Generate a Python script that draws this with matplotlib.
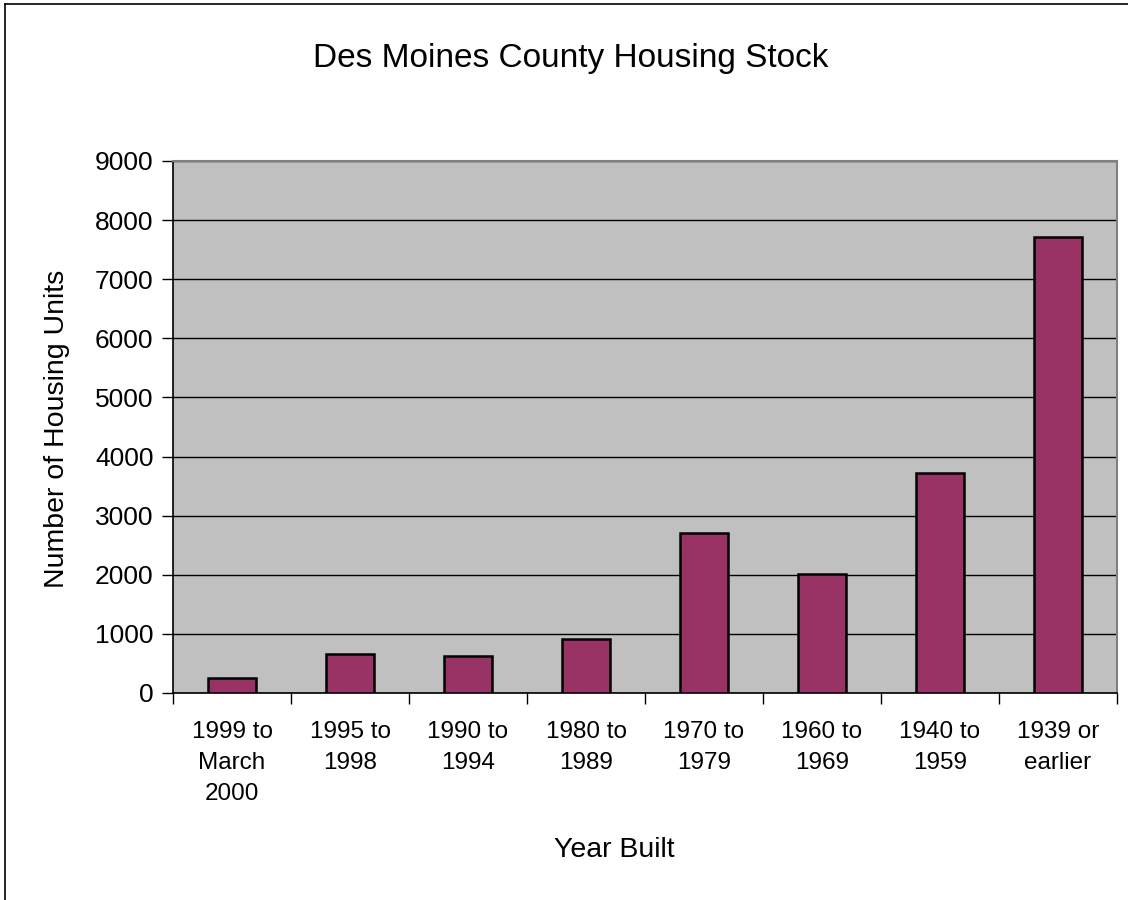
import matplotlib
matplotlib.use("Agg")
import matplotlib.pyplot as plt
from matplotlib.lines import Line2D

categories = ["1999 to\nMarch\n2000", "1995 to\n1998", "1990 to\n1994", "1980 to\n1989",
              "1970 to\n1979", "1960 to\n1969", "1940 to\n1959", "1939 or\nearlier"]
units = [254, 665, 634, 906, 2713, 2006, 3716, 7716]
y_ticks = [0, 1000, 2000, 3000, 4000, 5000, 6000, 7000, 8000, 9000]

title = "Des Moines County Housing Stock"
x_label = "Year Built"
y_label = "Number of Housing Units"

plt.rcParams['font.family'] = ['Liberation Sans', 'DejaVu Sans']

W, H = 1128, 900
fig = plt.figure(figsize=(W / 100, H / 100), dpi=100)
fig.patch.set_facecolor("white")

left, right, top, bottom = 173, 1117, 161, 693
ax = fig.add_axes([left / W, 1 - bottom / H, (right - left) / W, (bottom - top) / H])
ax.set_facecolor("#c0c0c0")

x = list(range(len(categories)))
ax.bar(x, units, width=0.4, color="#993366", edgecolor="black", linewidth=1.8, zorder=3)

ax.set_xlim(-0.5, len(categories) - 0.5)
ax.set_ylim(0, 9000)
ax.set_yticks(y_ticks)
ax.set_yticklabels([str(v) for v in y_ticks], fontsize=19)
ax.yaxis.grid(True, color="black", linewidth=1.0, zorder=1)
ax.set_axisbelow(True)

ax.set_xticks([i - 0.5 for i in range(len(categories) + 1)])
ax.set_xticklabels([""] * (len(categories) + 1))
ax.set_xticks(x, minor=True)
ax.set_xticklabels(categories, minor=True, fontsize=17.5, linespacing=1.55, va="top")
ax.tick_params(axis="x", which="major", length=8, width=1, color="black", direction="out")
ax.tick_params(axis="x", which="minor", length=0, pad=20)
ax.tick_params(axis="y", length=8, width=1, color="black", direction="out", pad=6)

for s in ["left", "bottom"]:
    ax.spines[s].set_color("black")
    ax.spines[s].set_linewidth(1.2)
for s in ["top", "right"]:
    ax.spines[s].set_color("#808080")
    ax.spines[s].set_linewidth(1.5)

fig.text(571 / W, 1 - 59 / H, title, ha="center", va="center", fontsize=24)
fig.text(614 / W, 1 - 850 / H, x_label, ha="center", va="center", fontsize=20.5)
fig.text(57 / W, 1 - 429 / H, y_label, ha="center", va="center", rotation=90, fontsize=20.5)

# outer chart border (top and left visible)
fig.add_artist(Line2D([5 / W, 1.0], [1 - 4 / H, 1 - 4 / H], transform=fig.transFigure,
                      color="black", linewidth=1.2))
fig.add_artist(Line2D([5 / W, 5 / W], [0.0, 1 - 4 / H], transform=fig.transFigure,
                      color="black", linewidth=1.2))

fig.savefig("out.png", dpi=100)
